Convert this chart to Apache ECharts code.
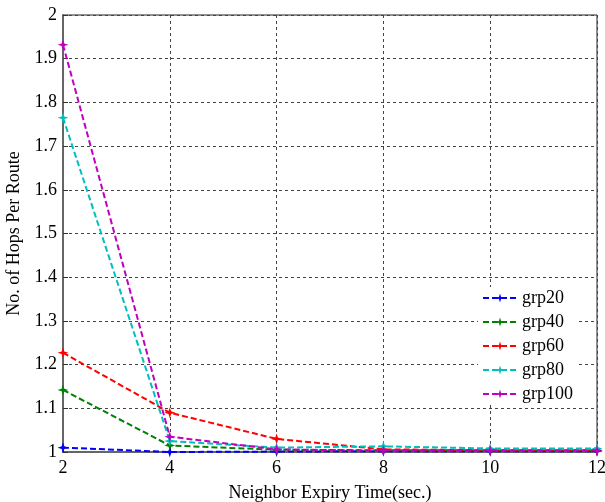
<!DOCTYPE html>
<html>
    <head>
        <meta charset="utf-8">
        <script src="https://cdn.jsdelivr.net/npm/echarts@6/dist/echarts.min.js"></script>
    </head>
    <body style="margin:0">
        <style>
            html, body, #main {
                width: 605px;
                height: 502px;
                background: #fff;
            }
        </style>
        <div id="main"></div>
        <script>
            var expiry = [2, 4, 6, 8, 10, 12];
            var grp20 = [1.010, 1.000, 1.001, 1.002, 1.002, 1.002];
            var grp40 = [1.142, 1.015, 1.005, 1.004, 1.004, 1.004];
            var grp60 = [1.227, 1.090, 1.030, 1.006, 1.004, 1.004];
            var grp80 = [1.765, 1.025, 1.010, 1.013, 1.008, 1.008];
            var grp100 = [1.932, 1.035, 1.006, 1.003, 1.003, 1.003];

            var names = ['grp20', 'grp40', 'grp60', 'grp80', 'grp100'];
            var values = [grp20, grp40, grp60, grp80, grp100];
            var colors = ['#0000ff', '#008000', '#ff0000', '#00bfbf', '#bf00bf'];

            var star = 'path://M5,0 L6.2,3.8 L10,5 L6.2,6.2 L5,10 L3.8,6.2 L0,5 L3.8,3.8 Z';

            var chart = echarts.init(document.getElementById('main'));

            var series = names.map(function (name, i) {
                return {
                    name: name,
                    type: 'line',
                    data: expiry.map(function (x, j) { return [x, values[i][j]]; }),
                    symbol: star,
                    symbolSize: 11,
                    showSymbol: true,
                    color: colors[i],
                    lineStyle: { type: [6, 3], width: 2, color: colors[i] },
                    itemStyle: { color: colors[i] }
                };
            });

            chart.setOption({
                animation: false,
                textStyle: { fontFamily: 'Liberation Serif' },
                grid: {
                    left: 63, right: 8, top: 15, bottom: 50,
                    outerBoundsMode: 'none',
                    containLabel: false,
                    show: true, borderColor: '#222', borderWidth: 1
                },
                legend: {
                    data: names,
                    orient: 'vertical',
                    left: 478,
                    top: 287,
                    itemWidth: 34,
                    itemHeight: 11,
                    itemGap: 6,
                    backgroundColor: '#fff',
                    padding: [2, 6, 2, 4],
                    textStyle: { fontFamily: 'Liberation Serif', fontSize: 18, color: '#000' }
                },
                xAxis: {
                    type: 'value',
                    min: 2, max: 12, interval: 2,
                    name: 'Neighbor Expiry Time(sec.)',
                    nameLocation: 'middle',
                    nameGap: 32,
                    nameTextStyle: { fontSize: 18, color: '#000' },
                    axisLine: { lineStyle: { color: '#666', width: 2 } },
                    axisTick: { inside: true, length: 5, lineStyle: { color: '#333' } },
                    axisLabel: { fontSize: 18, color: '#000', margin: 7 },
                    splitLine: { show: true, lineStyle: { type: [3, 3], color: '#444' } }
                },
                yAxis: {
                    type: 'value',
                    min: 1, max: 2, interval: 0.1,
                    name: 'No. of Hops Per Route',
                    nameLocation: 'middle',
                    nameGap: 33,
                    nameTextStyle: { fontSize: 18, color: '#000' },
                    axisLine: { show: true, lineStyle: { color: '#666', width: 2 } },
                    axisTick: { show: true, inside: true, length: 5, lineStyle: { color: '#333' } },
                    axisLabel: {
                        fontSize: 18, color: '#000', margin: 6,
                        formatter: function (v) { return String(Math.round(v * 10) / 10); }
                    },
                    splitLine: { show: true, lineStyle: { type: [3, 3], color: '#444' } }
                },
                series: series
            });
        </script>
    </body>
</html>
